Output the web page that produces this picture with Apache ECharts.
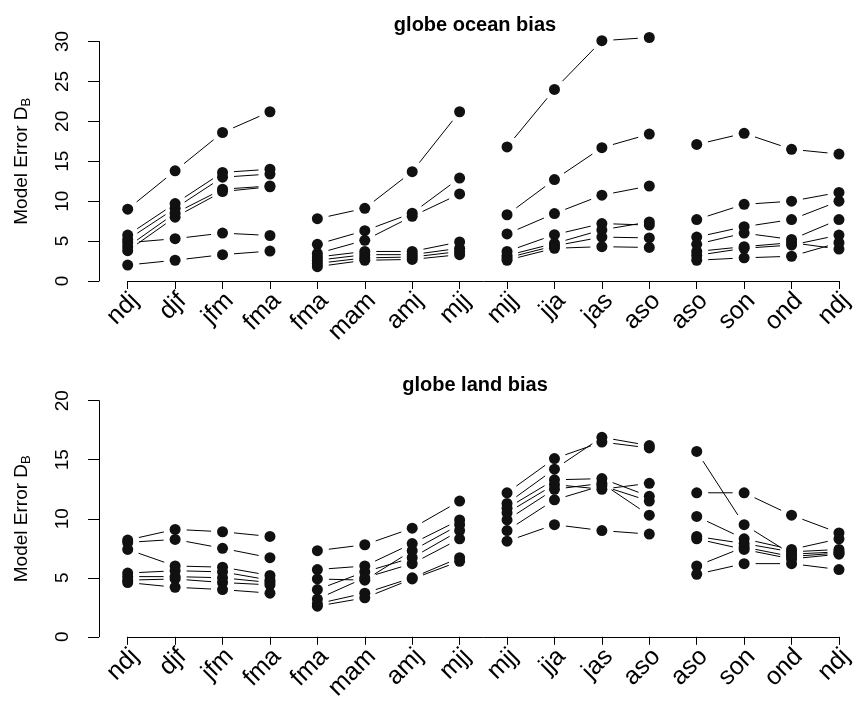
<!DOCTYPE html>
<html><head><meta charset="utf-8">
<script src="https://cdn.jsdelivr.net/npm/echarts@6/dist/echarts.min.js"></script>
<style>html,body{margin:0;padding:0;background:#fff}#c{width:857px;height:703px}</style>
</head><body><div id="c"></div>
<script>
// x positions: 4 groups of 4 three-month seasons
const xLabels = ['ndj','djf','jfm','fma','fma','mam','amj','mjj','mjj','jja','jas','aso','aso','son','ond','ndj'];
const groupSize = 4;

// globe ocean bias (one array per model line, 16 values = 4 groups x 4 seasons)
const ocean1 = [9.0,13.8,18.6,21.2,  7.8,9.1,13.7,21.2,  16.8,24.0,30.1,30.5,  17.1,18.5,16.5,15.9];
const ocean2 = [5.75,9.7,13.6,14.0,  4.6,6.3,8.5,12.9,   8.3,12.7,16.7,18.4,   7.7,9.6,10.0,11.1];
const ocean3 = [5.2,9.1,13.0,13.4,   3.45,5.1,8.1,10.9,  5.9,8.45,10.75,11.9,  5.5,6.8,7.7,10.0];
const ocean4 = [4.3,8.5,11.5,11.9,   3.0,3.7,3.7,4.9,    3.7,5.8,7.2,7.0,      4.6,6.0,5.2,7.7];
const ocean5 = [3.8,8.0,11.2,11.8,   2.6,3.3,3.3,4.1,    3.2,4.7,6.4,7.4,      3.7,4.3,4.8,4.0];
const ocean6 = [4.8,5.3,6.0,5.7,     2.2,2.9,3.0,3.7,    2.9,4.4,5.5,5.4,      3.2,4.1,4.5,5.75];
const ocean7 = [2.0,2.6,3.3,3.75,    1.8,2.6,2.7,3.3,    2.6,4.1,4.3,4.2,      2.6,2.9,3.1,4.8];

// globe land bias
const land1 = [8.2,9.1,8.9,8.5,   7.3,7.8,9.2,11.5,  12.2,15.1,16.5,16.0,  12.2,12.2,10.3,8.8];
const land2 = [8.0,8.25,7.5,6.7,  5.7,6.0,7.9,9.9,   11.3,14.2,16.9,16.2,  15.7,9.5,7.0,7.2];
const land3 = [7.4,6.0,5.9,5.2,   4.9,4.8,7.3,9.5,   10.9,13.3,13.4,11.9,  10.2,8.3,7.4,8.3];
const land4 = [5.4,5.6,5.5,4.8,   4.0,5.5,6.7,9.0,   10.5,12.9,12.5,13.0,  8.5,7.9,7.2,7.4];
const land5 = [5.1,5.1,5.0,4.6,   3.2,5.0,6.2,8.3,   9.9,12.5,13.0,10.3,   8.3,7.4,6.6,7.0];
const land6 = [4.8,4.9,4.6,4.4,   2.8,3.7,5.0,6.7,   9.0,11.6,12.8,11.5,   6.0,7.6,6.8,7.1];
const land7 = [4.6,4.2,4.0,3.7,   2.6,3.3,4.9,6.4,   8.1,9.5,9.0,8.7,      5.3,6.2,6.2,5.7];

const oceanLines = [ocean1,ocean2,ocean3,ocean4,ocean5,ocean6,ocean7];
const landLines = [land1,land2,land3,land4,land5,land6,land7];
const panelTitles = ['globe ocean bias','globe land bias'];
const yMaxes = [30, 20];

const FONT = "'Liberation Sans', Arial, Helvetica, sans-serif";
const GAP = 11.5;

function points(lines){
  const out = [];
  lines.forEach(l => l.forEach((v,i) => out.push([i+1, v])));
  return out;
}
function segments(lines){
  const out = [];
  lines.forEach(l => {
    for (let i = 0; i < l.length - 1; i++) {
      if ((i + 1) % groupSize === 0) continue; // break between groups
      out.push([i+1, l[i], i+2, l[i+1]]);
    }
  });
  return out;
}
function renderSeg(params, api){
  const p1 = api.coord([api.value(0), api.value(1)]);
  const p2 = api.coord([api.value(2), api.value(3)]);
  const dx = p2[0]-p1[0], dy = p2[1]-p1[1];
  const len = Math.hypot(dx, dy);
  if (len <= 2*GAP) return;
  const ux = dx/len, uy = dy/len;
  return {type:'line', shape:{x1:p1[0]+ux*GAP, y1:p1[1]+uy*GAP, x2:p2[0]-ux*GAP, y2:p2[1]-uy*GAP},
          style:{stroke:'#000', lineWidth:1}};
}

const grids = [
  {left:127.7, top:41.5, width:715.3, height:239.5},
  {left:127.7, top:400.7, width:715.3, height:240}
];

const xAxes = [0,1].map(i => ({
  gridIndex:i, type:'value', min:1, max:16, interval:1, offset:9,
  axisLine:{lineStyle:{color:'#000', width:1}},
  axisTick:{length:8, lineStyle:{color:'#000'}},
  splitLine:{show:false},
  axisLabel:{rotate:45, fontSize:25, color:'#000', fontFamily:FONT, margin:14, padding:[0,-10,0,0],
             formatter: v => xLabels[v-1] || ''}
}));
const yAxes = [0,1].map(i => ({
  gridIndex:i, type:'value', min:0, max:yMaxes[i], interval:5, offset:28.7,
  axisLine:{show:true, lineStyle:{color:'#000', width:1}},
  axisTick:{show:true, length:11, lineStyle:{color:'#000'}},
  splitLine:{show:false},
  axisLabel:{rotate:90, fontSize:19, color:'#000', fontFamily:FONT, margin:27},
  name:'{a|Model Error D}{b|B}', nameLocation:'middle', nameGap:66, nameRotate:90,
  nameTextStyle:{fontFamily:FONT, color:'#000',
    rich:{a:{fontSize:19, fontFamily:FONT, color:'#000'},
          b:{fontSize:13, fontFamily:FONT, color:'#000', padding:[10,0,0,0]}}}
}));

const series = [];
[oceanLines, landLines].forEach((lines, i) => {
  series.push({type:'custom', xAxisIndex:i, yAxisIndex:i, renderItem:renderSeg,
    encode:{x:[0,2], y:[1,3]}, data:segments(lines), silent:true, z:2});
  series.push({type:'scatter', xAxisIndex:i, yAxisIndex:i, data:points(lines),
    symbol:'circle', symbolSize:11, itemStyle:{color:'#111', opacity:1}, clip:false, silent:true, z:3});
});

const chart = echarts.init(document.getElementById('c'), null, {renderer:'canvas'});
chart.setOption({
  animation:false,
  backgroundColor:'#fff',
  title: panelTitles.map((t,i) => ({text:t, left:470, top:[10,370][i], textAlign:'center',
    textStyle:{fontSize:20, fontWeight:'bold', color:'#000', fontFamily:FONT}})),
  grid: grids, xAxis: xAxes, yAxis: yAxes, series: series
});
</script></body></html>
